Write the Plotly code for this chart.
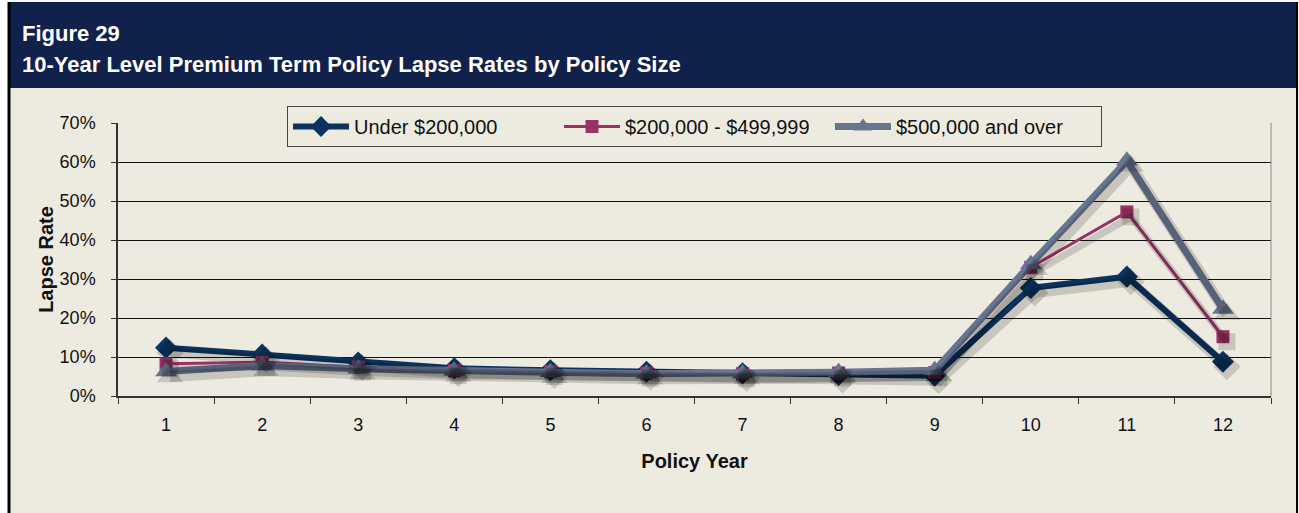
import plotly.graph_objects as go

years = [str(i) for i in range(1, 13)]
under_200k = [12.4, 10.6, 8.6, 7.1, 6.6, 6.2, 5.8, 5.4, 5.2, 27.7, 30.6, 8.8]
mid_200k_500k = [8.3, 8.7, 7.4, 6.5, 6.3, 5.9, 5.7, 5.9, 6.0, 33.0, 47.2, 15.2]
over_500k = [6.3, 7.8, 7.0, 6.4, 6.1, 5.7, 5.8, 6.1, 6.6, 33.8, 60.3, 22.3]
y_ticks = [0, 10, 20, 30, 40, 50, 60, 70]

W, H = 1299, 513
L, R, T, B = 118, 1271, 123, 396
bg = '#EDEBE0'
navy = '#10214B'
font_family = 'Liberation Sans, Arial, sans-serif'

series = [
    ('Under $200,000', under_200k, '#0B335F', 6, 'diamond', 17),
    ('$200,000 - $499,999', mid_200k_500k, '#993366', 3, 'square', 13),
    ('$500,000 and over', over_500k, '#687591', 7, 'triangle-up', 19),
]

fig = go.Figure()

# soft drop shadows on an offset overlay axis
for name, vals, color, width, sym, size in series:
    fig.add_trace(go.Scatter(
        x=years, y=vals, xaxis='x2', yaxis='y2', mode='lines+markers',
        line=dict(color='rgba(0,0,0,0.16)', width=width + 4),
        marker=dict(symbol=sym, size=size + 4, color='rgba(0,0,0,0.16)'),
        showlegend=False, hoverinfo='skip'))

for name, vals, color, width, sym, size in series:
    fig.add_trace(go.Scatter(
        x=years, y=vals, mode='lines+markers', name=name,
        line=dict(color=color, width=width),
        marker=dict(symbol=sym, size=size, color=color)))

def px(x):
    return (x - L) / (R - L)

def py(y):
    return (B - y) / (B - T)

shapes = [
    dict(type='rect', xref='paper', yref='paper', x0=px(0), x1=px(8), y0=py(H), y1=py(0),
         fillcolor='white', line_width=0, layer='below'),
    dict(type='rect', xref='paper', yref='paper', x0=px(0), x1=px(W), y0=py(2), y1=py(0),
         fillcolor='white', line_width=0, layer='below'),
    dict(type='rect', xref='paper', yref='paper', x0=px(8), x1=px(1298), y0=py(88), y1=py(2),
         fillcolor=navy, line_width=0),
    dict(type='line', xref='paper', yref='paper', x0=px(9), x1=px(9), y0=py(H), y1=py(2),
         line=dict(color='black', width=3)),
    dict(type='line', xref='paper', yref='paper', x0=px(1297), x1=px(1297), y0=py(H), y1=py(2),
         line=dict(color='black', width=2)),
    dict(type='line', xref='paper', yref='paper', x0=1, x1=1, y0=0, y1=1,
         line=dict(color='#888888', width=1)),
]

title_font = dict(family=font_family, size=22, color='white')
annotations = [
    dict(text='<b>Figure 29</b>', xref='paper', yref='paper', x=px(20), y=py(33),
         xanchor='left', yanchor='middle', showarrow=False, font=title_font),
    dict(text='<b>10-Year Level Premium Term Policy Lapse Rates by Policy Size</b>', xref='paper',
         yref='paper', x=px(20), y=py(64), xanchor='left', yanchor='middle', showarrow=False,
         font=title_font),
]

shift_x = 4 / ((R - L) / 12)
shift_y = 5 / ((B - T) / 70)

fig.update_layout(
    width=W, height=H,
    margin=dict(l=L, r=W - R, t=T, b=H - B),
    paper_bgcolor=bg, plot_bgcolor=bg,
    font=dict(family=font_family, size=18, color='#111111'),
    shapes=shapes, annotations=annotations,
    xaxis=dict(type='category', range=[-0.5, 11.5], tickson='boundaries', ticks='outside',
               ticklen=6, tickcolor='#333333', showline=True, linecolor='#333333', linewidth=1.5,
               showgrid=False, ticklabelstandoff=12,
               title=dict(text='<b>Policy Year</b>', font=dict(size=20), standoff=20)),
    yaxis=dict(range=[0, 70], tickvals=y_ticks, ticktext=[f'{v}%' for v in y_ticks],
               ticks='outside', ticklen=5, tickcolor='#333333', showline=True,
               linecolor='#333333', linewidth=1.5, gridcolor='#111111', gridwidth=1,
               zeroline=False, ticklabelstandoff=12,
               title=dict(text='<b>Lapse Rate</b>', font=dict(size=20), standoff=1)),
    xaxis2=dict(type='category', overlaying='x', range=[-0.5 - shift_x, 11.5 - shift_x],
                visible=False),
    yaxis2=dict(overlaying='y', range=[shift_y, 70 + shift_y], visible=False),
    legend=dict(orientation='h', x=0.5, xanchor='center', y=py(106), yanchor='top',
                bgcolor=bg, bordercolor='#444444', borderwidth=1,
                font=dict(size=20), itemwidth=56, entrywidth=200, entrywidthmode='pixels'),
    showlegend=True,
)

fig.write_html('out.html', config={'displayModeBar': False},
               post_script="document.body.style.margin='0';")
